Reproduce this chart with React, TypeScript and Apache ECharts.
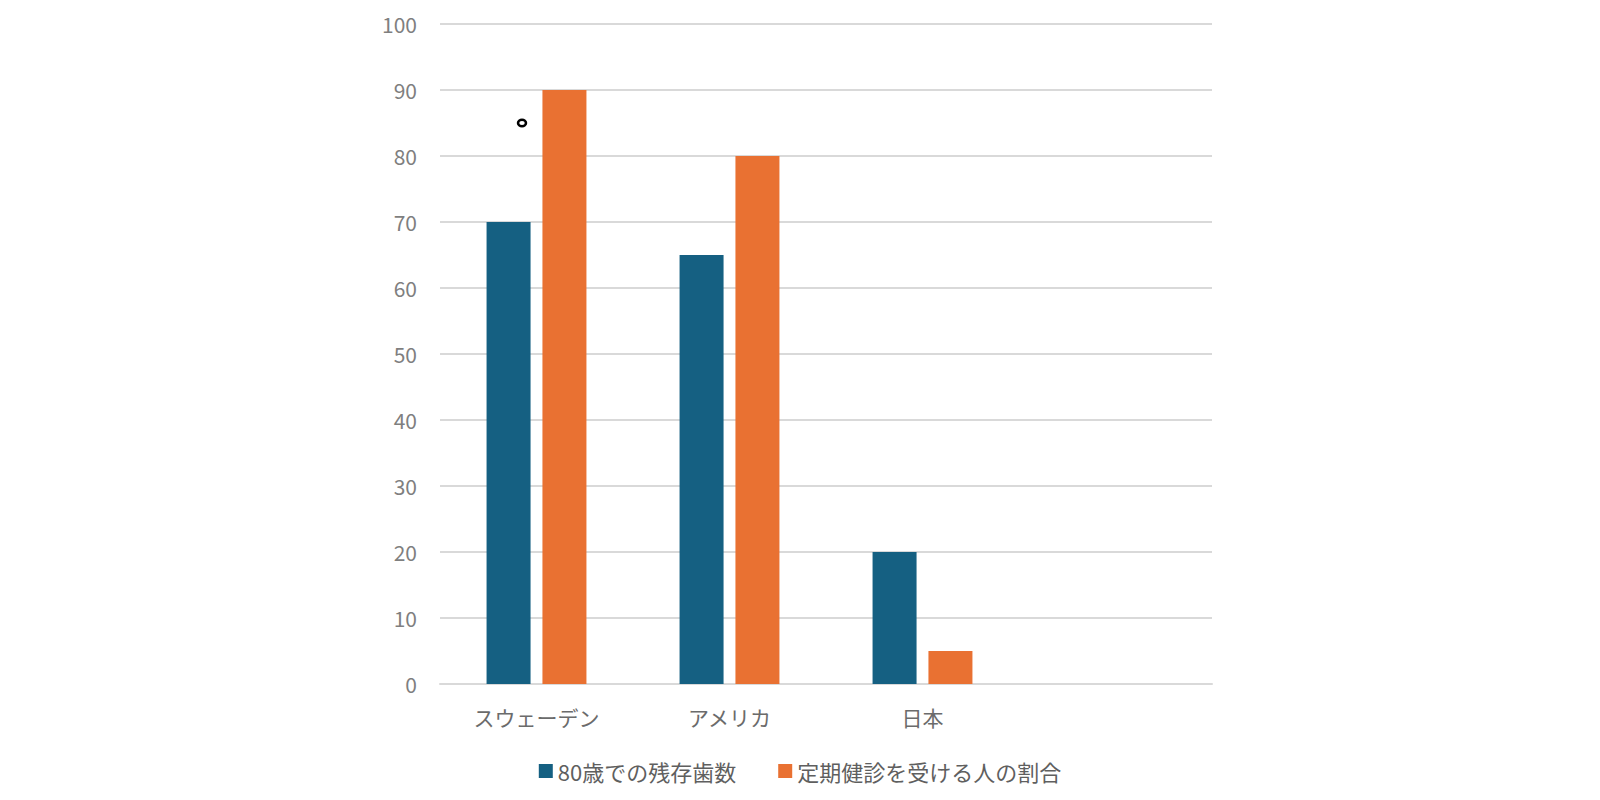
import { useEffect, useRef } from 'react';
import * as echarts from 'echarts';

const countries = ['スウェーデン', 'アメリカ', '日本', ''];
const remainingTeeth = [70, 65, 20, null];
const checkupRate = [90, 80, 5, null];
const seriesNames = ['80歳での残存歯数', '定期健診を受ける人の割合'];

const FONT = '"Noto Sans CJK JP", "Noto Sans", sans-serif';

export default function App() {
  const containerRef = useRef<HTMLDivElement | null>(null);

  useEffect(() => {
    if (!containerRef.current) return;
    document.body.style.margin = '0';

    const chart = echarts.init(containerRef.current, undefined, { renderer: 'svg' });

    chart.setOption({
      animation: false,
      backgroundColor: '#ffffff',
      textStyle: { fontFamily: FONT },
      grid: { left: 440, right: 388, top: 24, bottom: 116 },
      legend: {
        top: 755,
        left: 'center',
        itemWidth: 14,
        itemHeight: 14,
        itemGap: 42,
        icon: 'rect',
        textStyle: { color: '#5f5f5f', fontSize: 22, fontFamily: FONT, padding: [0, 0, 0, 0] },
        data: seriesNames,
      },
      xAxis: {
        type: 'category',
        data: countries,
        axisTick: { show: false },
        axisLine: { lineStyle: { color: '#d9d9d9', width: 2 } },
        axisLabel: { color: '#6b6b6b', fontSize: 21, margin: 22, fontFamily: FONT },
      },
      yAxis: {
        type: 'value',
        min: 0,
        max: 100,
        interval: 10,
        axisLine: { show: false },
        axisTick: { show: false },
        splitLine: { lineStyle: { color: '#d9d9d9', width: 2 } },
        axisLabel: { color: '#7f7f7f', fontSize: 21, margin: 23, fontFamily: FONT },
      },
      series: [
        {
          name: seriesNames[0],
          type: 'bar',
          data: remainingTeeth,
          barWidth: 44,
          barGap: '27%',
          itemStyle: { color: '#156082' },
        },
        {
          name: seriesNames[1],
          type: 'bar',
          data: checkupRate,
          barWidth: 44,
          itemStyle: { color: '#e97132' },
        },
      ],
      graphic: [
        {
          type: 'ellipse',
          shape: { cx: 522, cy: 123, rx: 4, ry: 3.2 },
          style: { fill: '#ffffff', stroke: '#000000', lineWidth: 2.5 },
        },
      ],
    });

    return () => {
      chart.dispose();
    };
  }, []);

  return <div ref={containerRef} style={{ width: 1600, height: 800 }} />;
}
